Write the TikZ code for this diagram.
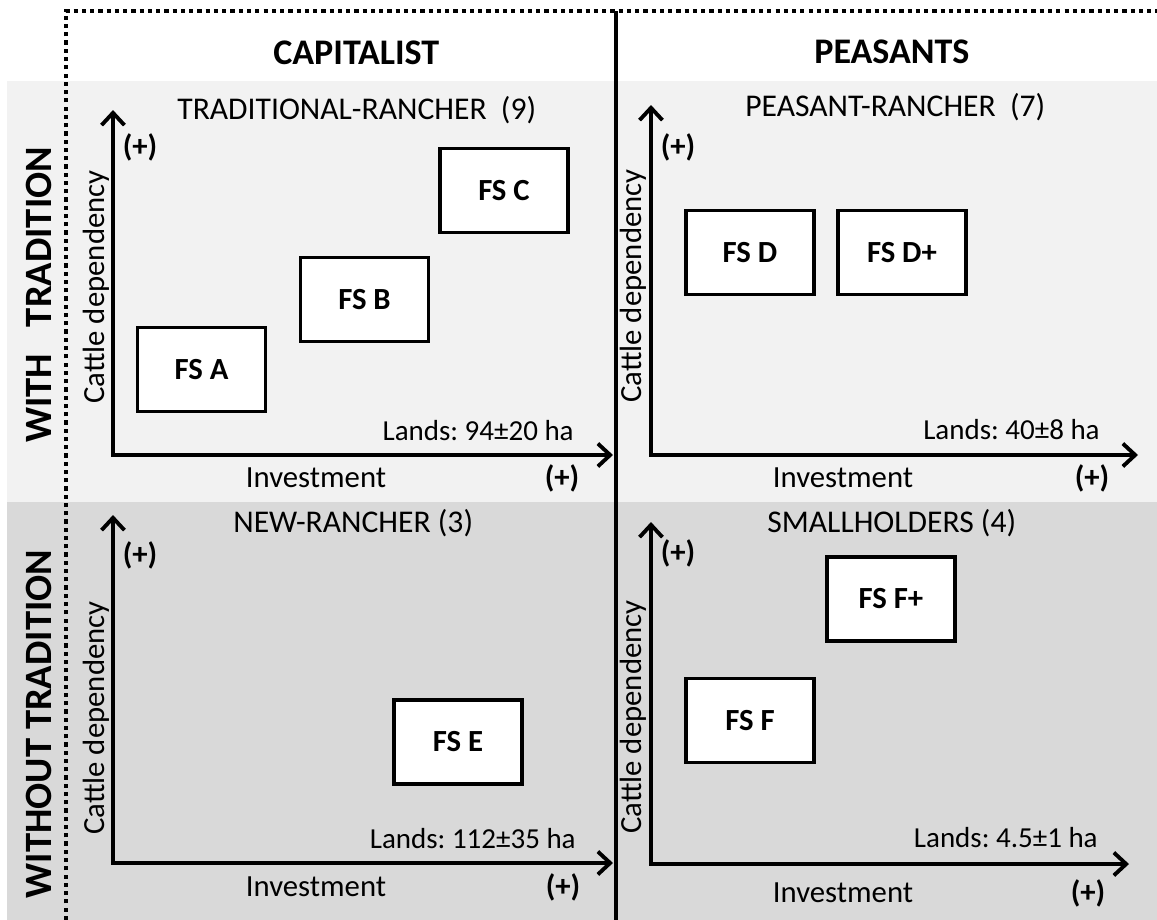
\documentclass[tikz,border=0pt]{standalone}
\usepackage{fontspec}
\setmainfont{Carlito}
\usetikzlibrary{arrows.meta}
\definecolor{lightbg}{HTML}{F2F2F2}
\definecolor{darkbg}{HTML}{D9D9D9}
\frenchspacing
\tikzset{
  fsbox/.style={draw,line width=2.2pt,fill=white,minimum width=2.56cm,minimum height=1.68cm,font=\fontsize{17.5}{21}\selectfont\bfseries},
  axisline/.style={line width=2.2pt,{Straight Barb[length=7pt,width=13pt]}-{Straight Barb[length=7pt,width=13pt]}},
  headtext/.style={font=\fontsize{20.5}{24}\selectfont\bfseries,inner sep=0pt},
  rowtext/.style={font=\fontsize{22}{26}\selectfont\bfseries,rotate=90},
  paneltitle/.style={font=\fontsize{18}{21}\selectfont,anchor=west,inner sep=0pt},
  axislabel/.style={font=\fontsize{17.5}{21}\selectfont},
  plussign/.style={font=\fontsize{17.5}{21}\selectfont\bfseries},
  landslabel/.style={font=\fontsize{16.5}{20}\selectfont,anchor=east,inner sep=0pt}
}

\begin{document}
\begin{tikzpicture}[x=0.02cm,y=-0.02cm]
    \useasboundingbox (0,0) rectangle (1157,920);
    \fill[lightbg] (7,81) rectangle (1157,502);
    \fill[darkbg] (7,502) rectangle (1157,920);
    \draw[line width=2.5pt,dash pattern=on 2.4pt off 2.3pt] (66,920) -- (66,11) -- (1157,11);
    \draw[line width=2.3pt] (616,11) -- (616,920);
    \node[headtext,anchor=west] (capital) at (273,53) {CAPITALIST};
    \node[headtext,anchor=west] (peasants) at (814,52) {PEASANTS};
    \node[rowtext] (withtrad) at (39,295) {WITH\hspace{0.7em}TRADITION};
    \node[rowtext] (withouttrad) at (39,724) {WITHOUT TRADITION};
    \coordinate (tlO) at (113,455); \coordinate (tlY) at (113,110); \coordinate (tlX) at (613,455);
    \coordinate (trO) at (651,455); \coordinate (trY) at (651,105); \coordinate (trX) at (1138,455);
    \coordinate (blO) at (113,863); \coordinate (blY) at (113,515); \coordinate (blX) at (613,863);
    \coordinate (brO) at (651,864); \coordinate (brY) at (651,522); \coordinate (brX) at (1129,864);
    \draw[axisline] (tlY) -- (tlO) -- (tlX);
    \draw[axisline] (trY) -- (trO) -- (trX);
    \draw[axisline] (blY) -- (blO) -- (blX);
    \draw[axisline] (brY) -- (brO) -- (brX);
    \node[paneltitle] (tradranch) at (177,110) {TRADITIONAL-RANCHER\hspace{0.45em}(9)};
    \node[paneltitle] (peasranch) at (745,107) {PEASANT-RANCHER\hspace{0.45em}(7)};
    \node[paneltitle] (newranch) at (233,523) {NEW-RANCHER (3)};
    \node[paneltitle] (smallhold) at (767,523) {SMALLHOLDERS (4)};
    \node[fsbox] (fsA) at (201.5,369.5) {FS A};
    \node[fsbox] (fsB) at (364.5,299.5) {FS B};
    \node[fsbox] (fsC) at (504,190.5) {FS C};
    \node[fsbox] (fsD) at (750,252.5) {FS D};
    \node[fsbox] (fsDp) at (902,252.5) {FS D+};
    \node[fsbox] (fsE) at (458,742) {FS E};
    \node[fsbox] (fsF) at (750,720.5) {FS F};
    \node[fsbox] (fsFp) at (891,599) {FS F+};
    \node[axislabel,rotate=90] (tlcattle) at (96,287) {Cattle dependency};
    \node[axislabel,rotate=90] (trcattle) at (633,286) {Cattle dependency};
    \node[axislabel,rotate=90] (blcattle) at (96,718) {Cattle dependency};
    \node[axislabel,rotate=90] (brcattle) at (633,717) {Cattle dependency};
    \node[axislabel] (tlinv) at (316,478) {Investment};
    \node[axislabel] (trinv) at (843,478) {Investment};
    \node[axislabel] (blinv) at (316,887) {Investment};
    \node[axislabel] (brinv) at (843,893) {Investment};
    \node[plussign] (tlplusy) at (140,147) {(+)};
    \node[plussign] (trplusy) at (678,147) {(+)};
    \node[plussign] (blplusy) at (140,555) {(+)};
    \node[plussign] (brplusy) at (678,553) {(+)};
    \node[plussign] (tlplusx) at (562,478) {(+)};
    \node[plussign] (trplusx) at (1092,478) {(+)};
    \node[plussign] (blplusx) at (563,887) {(+)};
    \node[plussign] (brplusx) at (1088,893) {(+)};
    \node[landslabel] (tllands) at (574,431) {Lands: 94±20 ha};
    \node[landslabel] (trlands) at (1100,430) {Lands: 40±8 ha};
    \node[landslabel] (bllands) at (576,839) {Lands: 112±35 ha};
    \node[landslabel] (brlands) at (1098,838) {Lands: 4.5±1 ha};
\end{tikzpicture}
\end{document}
